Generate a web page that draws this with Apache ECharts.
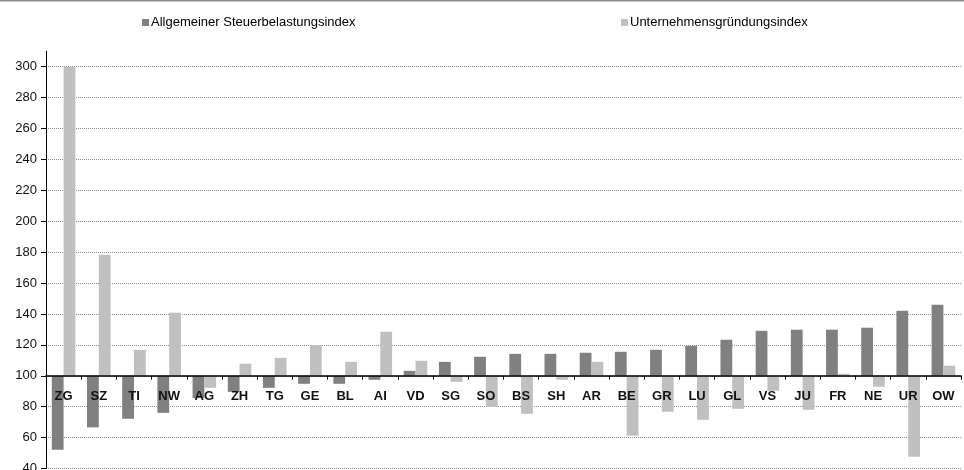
<!DOCTYPE html>
<html>
<head>
<meta charset="utf-8">
<script src="https://cdn.jsdelivr.net/npm/echarts@6/dist/echarts.min.js"></script>
<style>html,body{margin:0;padding:0;background:#fff}#c{width:964px;height:470px}</style>
</head>
<body>
<div id="c"></div>
<script>
const categories = ['ZG','SZ','TI','NW','AG','ZH','TG','GE','BL','AI','VD','SG','SO','BS','SH','AR','BE','GR','LU','GL','VS','JU','FR','NE','UR','OW'];
const steuerIndex = [52.1,66.6,72.2,76,85.5,89.6,92.2,94.8,94.8,97.4,103.2,109,112.3,114.2,114.2,114.9,115.5,116.8,119.4,123.3,129.1,129.8,129.8,131.1,142.1,146];
const gruendungIndex = [300,178.3,116.8,140.8,92.2,107.8,111.6,119.9,109,128.5,109.7,96.1,80,75.4,97.4,109,61.2,76.7,71.5,78.6,90.3,78,101.3,92.9,47.6,106.5];
const baseValue = 100;
const yTickMin = 40, yTickMax = 310, yTickStep = 20;
const seriesNames = ['Allgemeiner Steuerbelastungsindex','Unternehmensgründungsindex'];

const shift = arr => arr.map(v => +(v - baseValue).toFixed(2));
const gridTop = 51.2, gridBottom = 1.5, H = 470;
const plotH = H - gridTop - gridBottom;
// distance from grid bottom up to the baseline (value 100)
const axisOffset = -plotH * (baseValue - yTickMin) / (yTickMax - yTickMin);

const chart = echarts.init(document.getElementById('c'));
const font = '"Liberation Sans", Arial, sans-serif';
chart.setOption({
  animation: false,
  textStyle: {fontFamily: font},
  graphic: [{type:'line', shape:{x1:0,y1:0.5,x2:964,y2:0.5}, style:{stroke:'#8a8a8a', lineWidth:2}}],
  legend: [
    {data:[seriesNames[0]], left:137, top:11, icon:'rect', itemWidth:7, itemHeight:7, itemGap:0,
     textStyle:{fontFamily:font, fontSize:13, color:'#000', padding:[0,0,0,-3]}},
    {data:[seriesNames[1]], left:616, top:11, icon:'rect', itemWidth:7, itemHeight:7, itemGap:0,
     textStyle:{fontFamily:font, fontSize:13, color:'#000', padding:[0,0,0,-3]}}
  ],
  grid: {left:46, right:3, top:gridTop, bottom:gridBottom, containLabel:false, outerBoundsMode:'none'},
  xAxis: {
    type:'category', data:categories, position:'bottom', offset:axisOffset, z:5,
    axisLine:{onZero:false, lineStyle:{color:'#000', width:1.5}},
    axisTick:{show:true, length:4, lineStyle:{color:'#000'}},
    axisLabel:{show:true, color:'#111', fontSize:13, fontWeight:'bold', fontFamily:font, margin:14, interval:0},
    splitLine:{show:false}
  },
  yAxis: {
    type:'value', min:yTickMin - baseValue, max:yTickMax - baseValue, interval:yTickStep,
    axisLine:{show:true, onZero:false, lineStyle:{color:'#000', width:1}},
    axisTick:{show:true, length:5, lineStyle:{color:'#000'}},
    axisLabel:{color:'#111', fontSize:13, fontFamily:font, margin:9, showMaxLabel:false,
      formatter: v => String(Math.round(v + baseValue))},
    splitLine:{show:true, showMaxLine:false, lineStyle:{color:'#8c8c8c', width:1, type:[1,1]}}
  },
  series: [
    {name:seriesNames[0], type:'bar', data:shift(steuerIndex), barGap:'0%', barCategoryGap:'33%',
     itemStyle:{color:'#808080'}},
    {name:seriesNames[1], type:'bar', data:shift(gruendungIndex), barGap:'0%', barCategoryGap:'33%',
     itemStyle:{color:'#c0c0c0'}}
  ]
});
</script>
</body>
</html>
